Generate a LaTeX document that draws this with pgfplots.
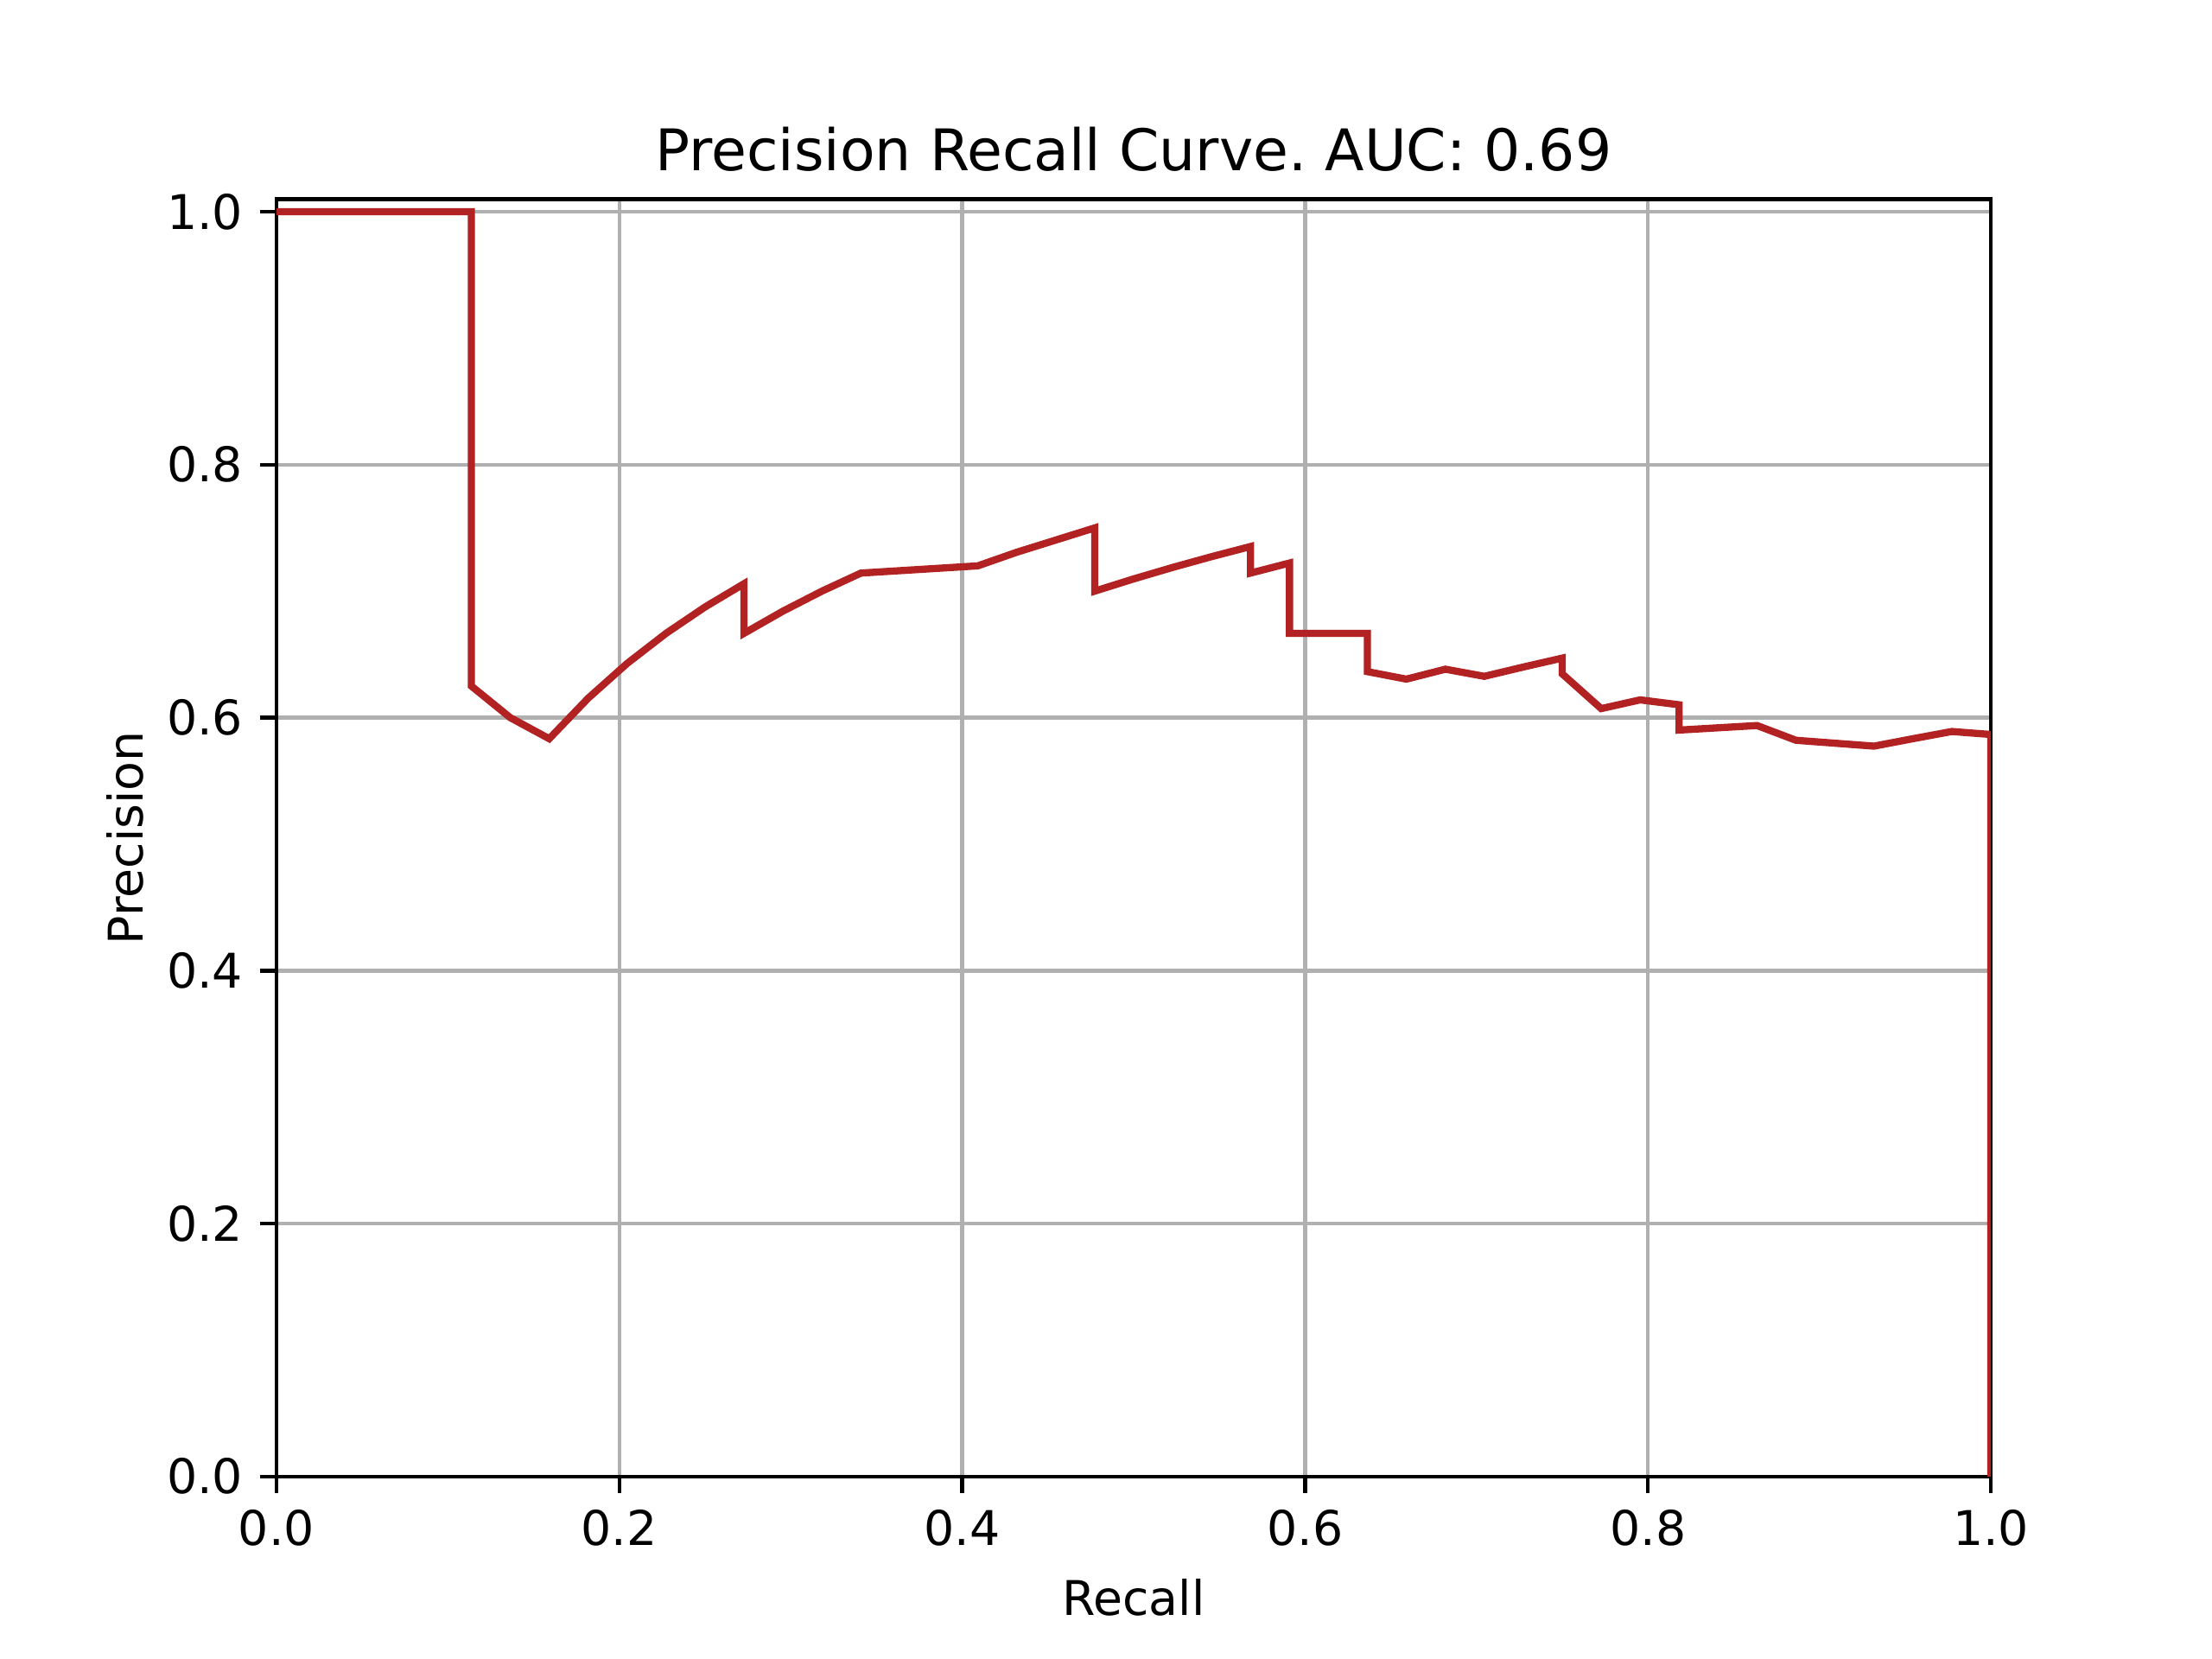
\documentclass[border=0pt]{standalone}
\usepackage{fontspec}
\setmainfont{DejaVu Sans}
\usepackage{pgfplots}
\pgfplotsset{compat=1.18}
\usetikzlibrary{calc}
\definecolor{firebrick}{RGB}{178,34,34}
\definecolor{gridgray}{RGB}{176,176,176}

\begin{document}
\frenchspacing
\fontsize{10}{12}\selectfont
\begin{tikzpicture}
\begin{axis}[
	scale only axis,
	width=4.96in,
	height=3.696in,
	xmin=0, xmax=1,
	ymin=0, ymax=1.01,
	xtick={0,0.2,...,1.0},
	ytick={0,0.2,...,1.0},
	xtick pos=bottom,
	ytick pos=left,
	/pgf/number format/assume math mode=true,
	/pgf/number format/fixed,
	/pgf/number format/fixed zerofill,
	/pgf/number format/precision=1,
	tick label style={font=\fontsize{10}{12}\selectfont},
	tick align=outside,
	major tick length=3.5pt,
	every tick/.style={black, line width=0.8pt},
	axis line style={line width=0.8pt},
	grid=major,
	major grid style={gridgray, line width=0.8pt},
	xlabel={Recall},
	ylabel={Precision},
	ylabel shift=-2pt,
	label style={font=\fontsize{10}{12}\selectfont},
	title={Precision Recall Curve. AUC: 0.69},
	title style={font=\fontsize{12}{14.4}\selectfont, at={(0.5,1)}, anchor=base},
]
\addplot[firebrick, line width=1.5pt] coordinates {
(0,1) (0.11364,1) (0.11364,0.625) (0.13636,0.6) (0.15909,0.58333)
(0.18182,0.61538) (0.20455,0.64286) (0.22727,0.66667) (0.25,0.6875)
(0.27273,0.70588) (0.27273,0.66667) (0.29545,0.68421) (0.31818,0.7)
(0.34091,0.71429) (0.40909,0.72) (0.43182,0.73077) (0.47727,0.75)
(0.47727,0.7) (0.5,0.70968) (0.52273,0.71875) (0.54545,0.72727)
(0.56818,0.73529) (0.56818,0.71429) (0.59091,0.72222) (0.59091,0.66667)
(0.63636,0.66667) (0.63636,0.63636) (0.65909,0.63043) (0.68182,0.6383)
(0.70455,0.63265) (0.72727,0.64) (0.75,0.64706) (0.75,0.63462)
(0.77273,0.60714) (0.79545,0.61404) (0.81818,0.61017) (0.81818,0.59016)
(0.86364,0.59375) (0.88636,0.58209) (0.93182,0.57746) (0.95455,0.58333)
(0.97727,0.58904) (1.0,0.58667) (1.0,0)
};
\end{axis}
\path[use as bounding box] ($(current axis.south west)+(-0.8in,-0.528in)$) rectangle ($(current axis.north east)+(0.64in,0.576in)$);
\end{tikzpicture}
\end{document}
